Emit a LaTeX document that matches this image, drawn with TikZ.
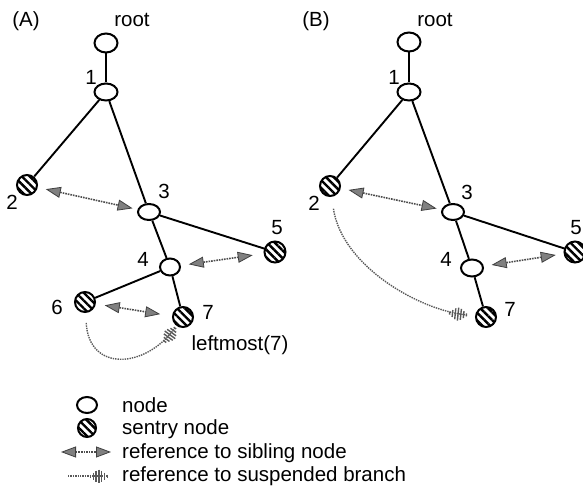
\documentclass[tikz,border=0pt]{standalone}
\usepackage{fontspec}
\setmainfont{Liberation Sans}
\usetikzlibrary{positioning,arrows.meta,patterns.meta,shapes.geometric}

\tikzset{
  treenode/.style={ellipse, draw, line width=2pt, minimum width=23pt, minimum height=17pt, inner sep=0pt, fill=white},
  sentry/.style={circle, draw, line width=2pt, minimum size=20pt, inner sep=0pt,
    pattern={Lines[angle=-45,distance=5.5pt,line width=2.4pt]}},
  edge/.style={line width=1.9pt},
  sibling/.style={line width=1.6pt, densely dotted, draw=black!70,
    {Triangle[length=15pt,width=11pt,fill=black!50,color=black!75,line width=0.8pt]}-{Triangle[length=15pt,width=11pt,fill=black!50,color=black!75,line width=0.8pt]}},
  suspended/.style={line width=1.4pt, densely dotted, draw=black!65,
    -{Bar[width=3pt,sep=1.4pt]Bar[width=7pt,sep=1.4pt]Bar[width=11pt,sep=1.4pt]Bar[width=13pt,sep=1.4pt]Bar[width=11pt,sep=1.4pt]Bar[width=7pt,sep=1.4pt]Bar[width=3pt]}},
  lbl/.style={font=\fontsize{20.5}{24}\selectfont, inner sep=0pt},
}

\begin{document}
\begin{tikzpicture}[x=1pt,y=-1pt]
  \useasboundingbox[fill=white] (0,0) rectangle (583,489);

  % (A)
  \node[lbl] (atitle) at (26,21) {(A)};
  \node[lbl] (aroottext) at (132,20) {root};
  \node[treenode, minimum height=19pt] (aroot) at (106,43) {};
  \node[treenode] (a1) at (106,92) {};
  \node[sentry] (a2) at (27,185) {};
  \node[treenode, minimum width=22pt, minimum height=16pt] (a3) at (149,212) {};
  \node[treenode, minimum width=20pt, minimum height=17pt] (a4) at (170,267) {};
  \node[sentry, minimum size=21pt] (a5) at (275,252) {};
  \node[sentry] (a6) at (85,302) {};
  \node[sentry] (a7) at (183,317) {};

  \node[lbl] (a1lab) at (91,77) {1};
  \node[lbl] (a2lab) at (12,202) {2};
  \node[lbl] (a3lab) at (164,191) {3};
  \node[lbl] (a4lab) at (143,259) {4};
  \node[lbl] (a5lab) at (277,228) {5};
  \node[lbl] (a6lab) at (57,307) {6};
  \node[lbl] (a7lab) at (208,312) {7};
  \node[lbl] (aleft) at (240,345) {leftmost(7)};

  \draw[edge] (aroot) -- (a1);
  \draw[edge] (a1) -- (a2);
  \draw[edge] (a1) -- (a3);
  \draw[edge] (a3) -- (a5);
  \draw[edge] (a3) -- (a4);
  \draw[edge] (a4) -- (a6);
  \draw[edge] (a4) -- (a7);

  \draw[sibling, shorten <=8pt, shorten >=5pt] (a2) -- (a3);
  \draw[sibling, shorten <=8pt, shorten >=11pt] (a4) -- (a5);
  \draw[sibling, shorten <=9pt, shorten >=12pt] (a6.-10) -- (a7.175);
  \draw[suspended, shorten <=10pt, shorten >=2pt] (a6) .. controls +(4,70) and +(-38,52) .. (a7);

  % (B)
  \node[lbl] (btitle) at (316,21) {(B)};
  \node[lbl] (broottext) at (435,20) {root};
  \node[treenode, minimum height=19pt] (broot) at (409,42) {};
  \node[treenode] (b1) at (409,92) {};
  \node[sentry] (b2) at (330,186) {};
  \node[treenode, minimum width=22pt, minimum height=16pt] (b3) at (453,212) {};
  \node[treenode, minimum width=22pt, minimum height=17pt] (b4) at (472,268) {};
  \node[sentry, minimum size=21pt] (b5) at (575,252) {};
  \node[sentry] (b7) at (486,317) {};

  \node[lbl] (b1lab) at (394,77) {1};
  \node[lbl] (b2lab) at (314,203) {2};
  \node[lbl] (b3lab) at (467,192) {3};
  \node[lbl] (b4lab) at (446,259) {4};
  \node[lbl] (b5lab) at (576,228) {5};
  \node[lbl] (b7lab) at (510,309) {7};

  \draw[edge] (broot) -- (b1);
  \draw[edge] (b1) -- (b2);
  \draw[edge] (b1) -- (b3);
  \draw[edge] (b3) -- (b5);
  \draw[edge] (b3) -- (b4);
  \draw[edge] (b4) -- (b7);

  \draw[sibling, shorten <=8pt, shorten >=5pt] (b2) -- (b3);
  \draw[sibling, shorten <=8pt, shorten >=8pt] (b4) -- (b5);
  \draw[suspended, shorten <=12pt, shorten >=8pt] (b2) .. controls +(12,80) and +(-67,-7) .. (b7);

  % legend
  \node[treenode, minimum width=20pt, minimum height=16pt] (keynode) at (87,405) {};
  \node[sentry, minimum size=18pt] (keysentry) at (87,428) {};
  \coordinate (keysiba) at (61,452);
  \coordinate (keysibb) at (111,452);
  \coordinate (keysusa) at (68,476);
  \coordinate (keysusb) at (108,476);
  \draw[sibling] (keysiba) -- (keysibb);
  \draw[suspended] (keysusa) -- (keysusb);
  \node[lbl, anchor=west] (keynodetext) at (122,405) {node};
  \node[lbl, anchor=west] (keysentrytext) at (122,429) {sentry node};
  \node[lbl, anchor=west] (keysibtext) at (122,453) {reference to sibling node};
  \node[lbl, anchor=west] (keysustext) at (122,476) {reference to suspended branch};
\end{tikzpicture}
\end{document}
